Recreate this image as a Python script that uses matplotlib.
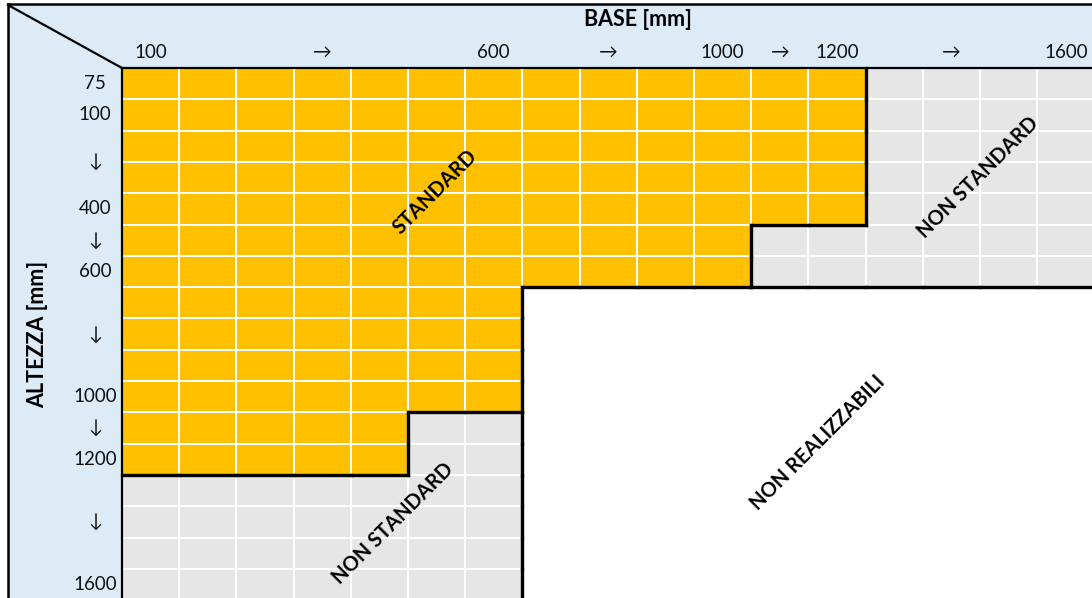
import matplotlib
matplotlib.use("Agg")
import matplotlib.pyplot as plt
import numpy as np
from matplotlib.colors import ListedColormap
from matplotlib.collections import LineCollection
from matplotlib.patches import Rectangle

plt.rcParams['font.family'] = ['Lato', 'DejaVu Sans']

# ---------------- data ----------------
bases = [100, 150, 200, 300, 400, 500, 600, 700, 800, 900, 1000, 1100, 1200, 1300, 1400, 1500, 1600]
heights = [75, 100, 200, 300, 400, 500, 600, 700, 800, 900, 1000, 1100, 1200, 1300, 1400, 1500, 1600]
# largest standard base for each height (0 = none)
std_max_base = [1200, 1200, 1200, 1200, 1200, 1000, 1000, 600, 600, 600, 600, 400, 400, 0, 0, 0, 0]
# largest feasible base for each height
max_base = [1600, 1600, 1600, 1600, 1600, 1600, 1600, 600, 600, 600, 600, 600, 600, 600, 600, 600, 600]

base_labels = ["100", "", "", "→", "", "", "600", "", "→", "", "1000", "→", "1200", "", "→", "", "1600"]
# (label, first row, last row) – merged label cells
height_labels = [("75", 0, 0), ("100", 1, 1), ("↓", 2, 3), ("400", 4, 4), ("↓", 5, 5),
                 ("600", 6, 6), ("↓", 7, 9), ("1000", 10, 10), ("↓", 11, 11),
                 ("1200", 12, 12), ("↓", 13, 15), ("1600", 16, 16)]

region_names = ["STANDARD", "NON STANDARD", "NON REALIZZABILI"]
region_colors = ["#FFC000", "#E6E6E6", "#FFFFFF"]

# ---------------- layout ----------------
W, H = 1092, 598
X0, Y0 = 122.0, 68.0      # grid origin in pixels
CW, RH = 57.2, 31.3       # cell size in pixels

def cx(px):
    return (px - X0) / CW

def cy(py):
    return (py - Y0) / RH

fig = plt.figure(figsize=(W / 100, H / 100), dpi=100)
ax = fig.add_axes([0, 0, 1, 1])
ax.set_xlim(cx(0), cx(W))
ax.set_ylim(cy(H), cy(0))
ax.axis('off')

nb, nh = len(bases), len(heights)
B = np.array(bases)[None, :]
S = np.array(std_max_base)[:, None]
M = np.array(max_base)[:, None]
cat = np.where(B <= S, 0, np.where(B <= M, 1, 2))

# header background
blue = "#DDEBF7"
ax.add_patch(Rectangle((cx(8), cy(4)), cx(W + 10) - cx(8), 0 - cy(4), facecolor=blue, edgecolor='none', zorder=0))
ax.add_patch(Rectangle((cx(8), 0), 0 - cx(8), cy(H + 10), facecolor=blue, edgecolor='none', zorder=0))

# cells
ax.pcolormesh(np.arange(nb + 1), np.arange(nh + 1), cat, cmap=ListedColormap(region_colors),
              vmin=-0.5, vmax=2.5, edgecolors='white', linewidth=1.1, zorder=1)

# thick borders between regions
segs = []
for i in range(nh):
    for j in range(nb):
        if j + 1 < nb and cat[i, j] != cat[i, j + 1]:
            segs.append([(j + 1, i), (j + 1, i + 1)])
        if i + 1 < nh and cat[i, j] != cat[i + 1, j]:
            segs.append([(j, i + 1), (j + 1, i + 1)])
ax.add_collection(LineCollection(segs, colors='black', linewidths=2.4, capstyle='projecting', zorder=3))

# grid outer borders and frame
ax.plot([0, cx(W + 10)], [0, 0], color='black', lw=1.6, zorder=4, solid_capstyle='projecting')
ax.plot([0, 0], [0, cy(H + 10)], color='black', lw=1.6, zorder=4, solid_capstyle='projecting')
ax.plot([cx(8), cx(W + 10)], [cy(4), cy(4)], color='black', lw=1.8, zorder=4, solid_capstyle='projecting')
ax.plot([cx(8), cx(8)], [cy(4), cy(H + 10)], color='black', lw=1.8, zorder=4, solid_capstyle='projecting')
ax.plot([cx(8), 0], [cy(5), 0], color='black', lw=1.6, zorder=4)

# tick labels
fs = 13.5
for j, lab in enumerate(base_labels):
    if lab:
        ax.text(j + 0.5, -0.5, lab, ha='center', va='center', fontsize=fs, color='#111111')
for lab, r0, r1 in height_labels:
    ax.text(cx(95), (r0 + r1 + 1) / 2, lab, ha='center', va='center', fontsize=fs, color='#111111')

ax.text(cx(638), cy(20), "BASE [mm]", ha='center', va='center', fontsize=15.5, fontweight='bold')
ax.text(cx(38), cy(334), "ALTEZZA [mm]", ha='center', va='center', fontsize=15.5, fontweight='bold', rotation=90)

# region labels
rfs = 14.5
ax.text(cx(435), cy(192), region_names[0], ha='center', va='center', rotation=45, fontsize=rfs, fontweight='bold', zorder=5)
ax.text(cx(978), cy(177), region_names[1], ha='center', va='center', rotation=45, fontsize=rfs, fontweight='bold', zorder=5)
ax.text(cx(393), cy(523), region_names[1], ha='center', va='center', rotation=45, fontsize=rfs, fontweight='bold', zorder=5)
ax.text(cx(818), cy(443), region_names[2], ha='center', va='center', rotation=45, fontsize=rfs, fontweight='bold', zorder=5)

fig.savefig("out.png", dpi=100)
